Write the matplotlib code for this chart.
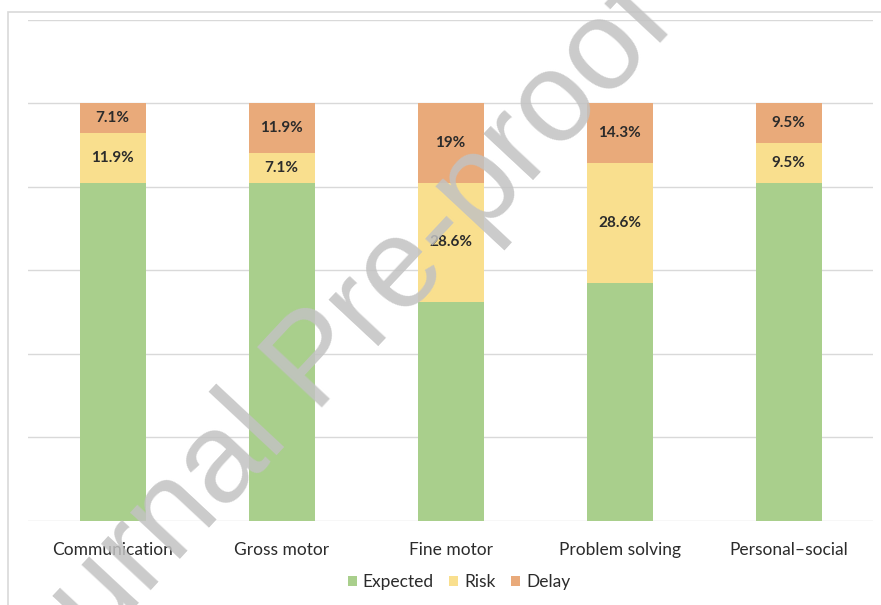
import numpy as np
import matplotlib.pyplot as plt
from matplotlib.patches import Rectangle

# Developmental domains and share of children in each group (%)
categories = ["Communication", "Gross motor", "Fine motor", "Problem solving", "Personal\u2013social"]
expected = [81.0, 81.0, 52.4, 57.1, 81.0]
risk = [11.9, 7.1, 28.6, 28.6, 9.5]
delay = [7.1, 11.9, 19.0, 14.3, 9.5]
risk_labels = ["11.9%", "7.1%", "28.6%", "28.6%", "9.5%"]
delay_labels = ["7.1%", "11.9%", "19%", "14.3%", "9.5%"]

green = "#A9CF8C"
yellow = "#F9DF8E"
orange = "#E9AA7A"

plt.rcParams["font.family"] = ["Lato", "DejaVu Sans"]

fig = plt.figure(figsize=(8.81, 6.05), dpi=100)
ax = fig.add_axes([0.032, 0.139, 0.959, 0.828])

x = np.arange(len(categories))
w = 0.39
exp_arr = np.array(expected)
risk_arr = np.array(risk)
delay_arr = np.array(delay)

ax.bar(x, exp_arr, w, color=green, label="Expected", zorder=2)
ax.bar(x, risk_arr, w, bottom=exp_arr, color=yellow, label="Risk", zorder=2)
ax.bar(x, delay_arr, w, bottom=exp_arr + risk_arr, color=orange, label="Delay", zorder=2)

for i in range(len(categories)):
    ax.text(x[i], exp_arr[i] + risk_arr[i] / 2, risk_labels[i], ha="center", va="center",
            fontsize=11, fontweight="bold", color="#2b2b2b", zorder=3)
    ax.text(x[i], exp_arr[i] + risk_arr[i] + delay_arr[i] / 2, delay_labels[i], ha="center",
            va="center", fontsize=11, fontweight="bold", color="#2b2b2b", zorder=3)

ax.set_xlim(-0.5, len(categories) - 0.5)
ax.set_ylim(0, 120)
ax.set_yticks(np.arange(0, 121, 20))
ax.yaxis.grid(True, color="#D9D9D9", linewidth=1, zorder=0)
ax.tick_params(axis="y", left=False, labelleft=False)
ax.tick_params(axis="x", length=0, labelsize=12.5, colors="#2b2b2b", pad=15)
ax.set_xticks(x)
ax.set_xticklabels(categories)
for s in ax.spines.values():
    s.set_visible(False)

ax.legend(loc="upper center", bbox_to_anchor=(0.51, -0.075), ncol=3, frameon=False,
          fontsize=12.5, handlelength=0.5, handleheight=0.5, handletextpad=0.35,
          columnspacing=0.9, labelcolor="#2b2b2b")

# light chart border
fig.patches.append(Rectangle((0.009, -0.01), 1.0, 0.99, transform=fig.transFigure,
                             fill=False, edgecolor="#D9D9D9", linewidth=1.2))

# watermark
fig.text(0.36, 0.40, "Journal Pre-proof", fontsize=92, rotation=47, color="#C2C2C2",
         alpha=0.85, ha="center", va="center", family="Liberation Sans", zorder=10)

fig.savefig("out.png", dpi=100)
plt.close(fig)
